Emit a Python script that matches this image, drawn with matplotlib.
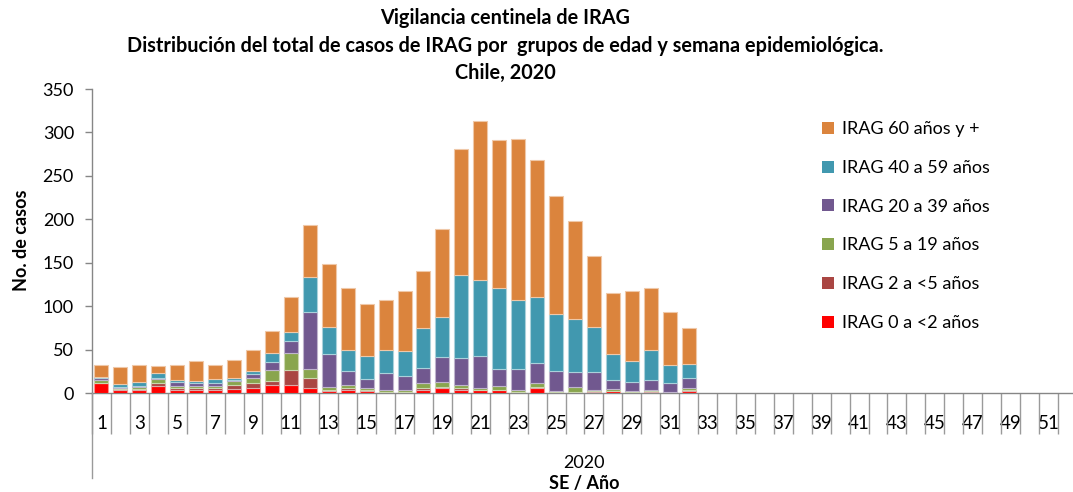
import numpy as np
import matplotlib
matplotlib.use("Agg")
import matplotlib.pyplot as plt
from matplotlib.lines import Line2D
from matplotlib.patches import Patch

weeks = list(range(1, 53))

# values per epidemiological week 1..32 (weeks 33..52 have no data)
irag_0_2 = [11, 4, 4, 8, 3, 4, 4, 5, 6, 9, 9, 6, 2, 4, 2, 1, 1, 3, 6, 4,
            3, 3, 1, 6, 0.5, 0.5, 1, 2, 0.5, 1.5, 0.5, 2]
irag_2_5 = [1, 1, 1, 3, 3, 2, 2, 4, 5, 5, 17, 11, 1.5, 2, 1, 0.5, 0.5, 3, 1, 2,
            0, 0.5, 0.5, 1, 0.5, 0.5, 1, 0.5, 0.5, 0.5, 0.5, 1]
irag_5_19 = [3, 1, 2, 5, 2, 1.5, 2, 5, 6.5, 12, 20, 11, 3, 3, 3, 2.5, 1.5, 5, 6, 3,
             3, 5, 1.5, 4, 1.5, 5.5, 1, 2, 1.3, 1, 0.5, 3]
irag_20_39 = [2, 1, 1, 1, 5, 4, 3, 1.5, 4, 10, 14, 65, 38, 16, 10, 19, 16, 18, 29, 31.5,
              36.5, 19.5, 25, 23, 23, 17.7, 21, 10.7, 10.7, 12.3, 10.4, 11.5]
irag_40_59 = [1, 3, 5, 6, 2, 2, 5, 2, 4, 10, 10, 41, 31, 25, 27, 26, 29, 46, 46, 95,
              87.5, 93, 79.5, 76, 66, 61.4, 52, 30, 23.8, 34.2, 20, 15.7]
irag_60 = [14, 20, 19, 8.5, 17, 23, 16, 21, 24, 25, 40, 59, 72.5, 71, 59, 58, 69.5, 66, 101, 145,
           182.7, 170, 185, 158.5, 135.5, 112, 81.7, 70.2, 80.6, 71.8, 61.8, 42]

series_names = ["IRAG 0 a <2 años", "IRAG 2 a <5 años", "IRAG 5 a 19 años",
                "IRAG 20 a 39 años", "IRAG 40 a 59 años", "IRAG 60 años y +"]
series_vals = [irag_0_2, irag_2_5, irag_5_19, irag_20_39, irag_40_59, irag_60]
colors = ["#FF0000", "#AA4643", "#89A54E", "#71588F", "#4198AF", "#DB843D"]

title_lines = ["Vigilancia centinela de IRAG",
               "Distribución del total de casos de IRAG por  grupos de edad y semana epidemiológica.",
               "Chile, 2020"]

plt.rcParams['font.family'] = ['Lato', 'DejaVu Sans']

W, H = 1073, 492
fig = plt.figure(figsize=(W / 100, H / 100), dpi=100)
px_w = 18.94
left_px, right_px, top_px, base_px = 92, 92 + 52 * px_w, 89, 393
ax = fig.add_axes([left_px / W, (H - base_px) / H, (right_px - left_px) / W, (base_px - top_px) / H])

def lighten(c, f=0.55):
    r, g, b = matplotlib.colors.to_rgb(c)
    return (r + (1 - r) * f, g + (1 - g) * f, b + (1 - b) * f)

x = np.array(weeks[:len(irag_0_2)])
bottom = np.zeros(len(x))
for name, vals, col in zip(series_names, series_vals, colors):
    v = np.array(vals, dtype=float)
    ax.bar(x, v, width=0.74, bottom=bottom, color=col, edgecolor=lighten(col), linewidth=0.8, label=name, zorder=3)
    bottom += v

ax.set_xlim(0.5, 52.5)
ax.set_ylim(0, 350)
ax.set_yticks(np.arange(0, 351, 50))
ax.tick_params(axis='y', direction='out', length=5, width=1, color='#868686', labelsize=13, pad=8)

odd = [w for w in weeks if w % 2 == 1]
ax.set_xticks(odd)
ax.set_xticklabels([str(w) for w in odd])
ax.set_xticks(np.arange(0.5, 53, 1), minor=True)
ax.tick_params(axis='x', which='major', length=0, labelsize=13.5, pad=16)
ax.tick_params(axis='x', which='minor', direction='out', length=29.5, width=1, color='#9A9A9A')

for s in ['top', 'right']:
    ax.spines[s].set_visible(False)
for s in ['left', 'bottom']:
    ax.spines[s].set_color('#868686')
    ax.spines[s].set_linewidth(1)

# outer group line
fig.add_artist(Line2D([left_px / W, left_px / W], [(H - 393) / H, (H - 478) / H], color='#9A9A9A', lw=1))

fig.text(584 / W, 1 - 463 / H, "2020", ha='center', va='center', fontsize=13)
fig.text(584 / W, 1 - 483 / H, "SE / Año", ha='center', va='center', fontsize=13, fontweight='bold')
fig.text(22 / W, 1 - 240 / H, "No. de casos", ha='center', va='center', rotation=90, fontsize=13, fontweight='bold')

for t, yy in zip(title_lines, [18, 46, 73]):
    fig.text(505 / W, 1 - yy / H, t, ha='center', va='center', fontsize=14.3, fontweight='bold')

handles = [Patch(facecolor=c, edgecolor='none') for c in colors][::-1]
labels = series_names[::-1]
leg = fig.legend(handles, labels, loc='upper left', bbox_to_anchor=(815 / W, 1 - 114 / H),
                 frameon=False, fontsize=13, handlelength=0.65, handleheight=0.65,
                 handletextpad=0.45, labelspacing=1.26, borderaxespad=0)

fig.savefig("out.png", dpi=100)
